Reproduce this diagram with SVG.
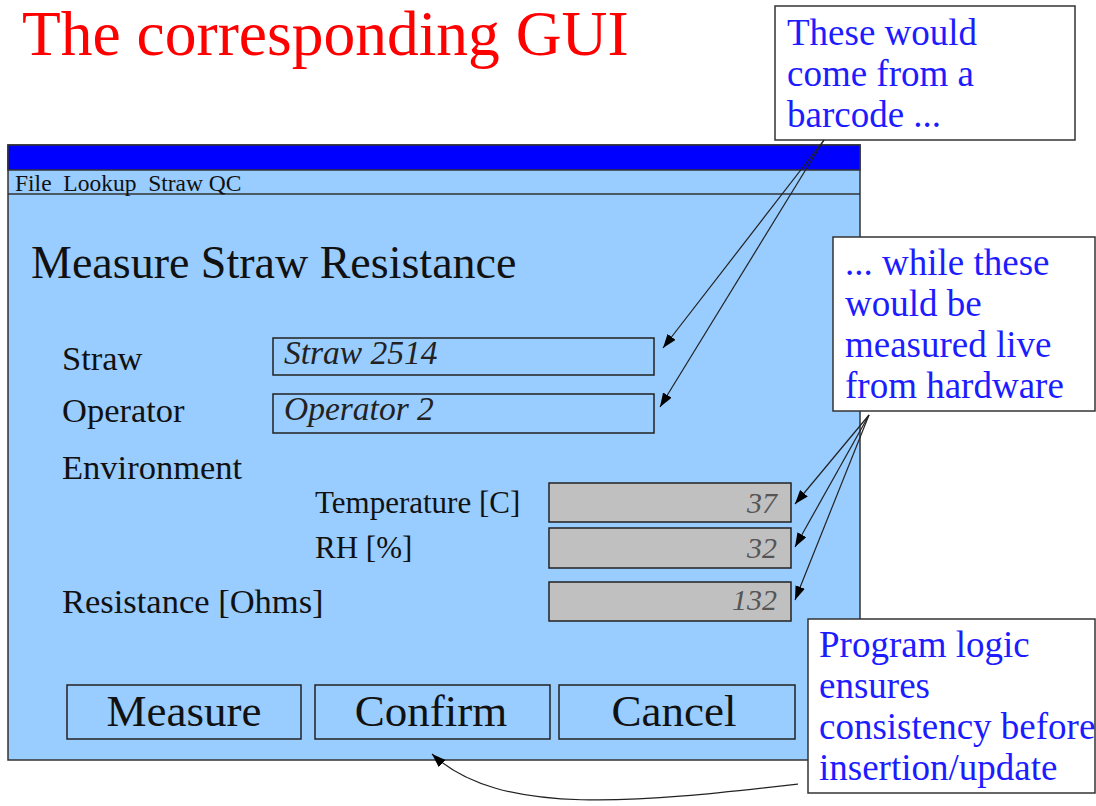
<svg xmlns="http://www.w3.org/2000/svg" width="1096" height="806" viewBox="0 0 1096 806">
  <defs>
    <marker id="head" markerUnits="userSpaceOnUse" markerWidth="16" markerHeight="12" refX="14" refY="5" orient="auto">
      <path d="M0,0 L14,5 L0,10 z" fill="#000"/>
    </marker>
    <style>
      text { font-family: "Liberation Serif", "Times New Roman", serif; }
      .title { font-size: 63.5px; fill: #ff0000; }
      .note { font-size: 37px; fill: #1c1cff; }
      .notebox { fill: #ffffff; stroke: #333333; stroke-width: 1.5; }
      .win { fill: #99ccff; stroke: #333333; stroke-width: 1.5; }
      .bar { fill: #0000ff; stroke: #333333; stroke-width: 1.5; }
      .menu { font-size: 23.5px; fill: #111111; }
      .head { font-size: 46px; fill: #111111; }
      .label { font-size: 34.5px; fill: #111111; }
      .sublabel { font-size: 31px; fill: #111111; }
      .entry { fill: none; stroke: #222222; stroke-width: 1.5; }
      .entrytxt { font-size: 33.5px; font-style: italic; fill: #222222; }
      .field { fill: #c0c0c0; stroke: #222222; stroke-width: 1.5; }
      .value { font-size: 30px; font-style: italic; fill: #555555; text-anchor: end; }
      .btn { fill: none; stroke: #222222; stroke-width: 1.5; }
      .btntxt { font-size: 45px; fill: #111111; text-anchor: middle; }
      .conn { fill: none; stroke: #222222; stroke-width: 1.2; marker-end: url(#head); }
    </style>
  </defs>

  <rect width="1096" height="806" fill="#ffffff"/>

  <text class="title" x="22" y="55">The corresponding GUI</text>

  <!-- application window -->
  <g id="window">
    <rect class="win" x="8" y="145" width="852" height="615"/>
    <rect class="bar" x="8" y="145" width="852" height="25"/>
    <line x1="8" y1="194" x2="860" y2="194" stroke="#333333" stroke-width="1.5"/>
    <text class="menu" x="15" y="191" xml:space="preserve">File  Lookup  Straw QC</text>
    <text class="head" x="31" y="278">Measure Straw Resistance</text>
  </g>

  <g id="straw">
    <text class="label" x="62" y="370">Straw</text>
    <rect class="entry" x="273" y="338" width="381" height="37"/>
    <text class="entrytxt" x="284" y="364">Straw 2514</text>
  </g>

  <g id="operator">
    <text class="label" x="62" y="422">Operator</text>
    <rect class="entry" x="273" y="394" width="381" height="39"/>
    <text class="entrytxt" x="284" y="420">Operator 2</text>
  </g>

  <g id="environment">
    <text class="label" x="62" y="479">Environment</text>
  </g>

  <g id="temperature">
    <text class="sublabel" x="315" y="513">Temperature [C]</text>
    <rect class="field" x="549" y="483" width="242" height="39"/>
    <text class="value" x="777" y="513">37</text>
  </g>

  <g id="humidity">
    <text class="sublabel" x="315" y="558">RH [%]</text>
    <rect class="field" x="549" y="528" width="242" height="40"/>
    <text class="value" x="777" y="558">32</text>
  </g>

  <g id="resistance">
    <text class="label" x="62" y="613">Resistance [Ohms]</text>
    <rect class="field" x="549" y="582" width="242" height="39"/>
    <text class="value" x="777" y="610">132</text>
  </g>

  <g id="btn-measure">
    <rect class="btn" x="67" y="685" width="234" height="54"/>
    <text class="btntxt" x="184" y="726">Measure</text>
  </g>
  <g id="btn-confirm">
    <rect class="btn" x="315" y="685" width="235" height="54"/>
    <text class="btntxt" x="431" y="726">Confirm</text>
  </g>
  <g id="btn-cancel">
    <rect class="btn" x="559" y="685" width="236" height="54"/>
    <text class="btntxt" x="674" y="726">Cancel</text>
  </g>

  <!-- annotations -->
  <g id="note-barcode">
    <rect class="notebox" x="775" y="6" width="300" height="134"/>
    <text class="note" x="787" y="45">These would</text>
    <text class="note" x="787" y="86">come from a</text>
    <text class="note" x="787" y="127">barcode ...</text>
  </g>

  <g id="note-hardware">
    <rect class="notebox" x="833" y="237" width="262" height="174"/>
    <text class="note" x="845" y="275">... while these</text>
    <text class="note" x="845" y="316">would be</text>
    <text class="note" x="845" y="357">measured live</text>
    <text class="note" x="845" y="398">from hardware</text>
  </g>

  <g id="note-logic">
    <rect class="notebox" x="808" y="619" width="287" height="174"/>
    <text class="note" x="819" y="657">Program logic</text>
    <text class="note" x="819" y="698">ensures</text>
    <text class="note" x="819" y="739">consistency before</text>
    <text class="note" x="819" y="780">insertion/update</text>
  </g>

  <g id="connectors">
    <line class="conn" x1="824" y1="140" x2="663" y2="348"/>
    <line class="conn" x1="824" y1="140" x2="660" y2="407"/>
    <line class="conn" x1="869" y1="415" x2="795" y2="504"/>
    <line class="conn" x1="869" y1="415" x2="795" y2="547"/>
    <line class="conn" x1="869" y1="415" x2="795" y2="600"/>
    <path class="conn" d="M798,784 C640,802 500,818 432,754"/>
  </g>
</svg>
